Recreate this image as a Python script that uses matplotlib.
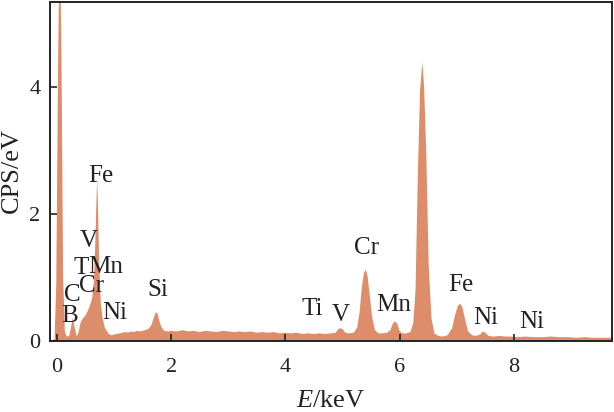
import matplotlib
matplotlib.use('Agg')
import matplotlib.pyplot as plt

plt.rcParams['font.family'] = ['Liberation Serif', 'DejaVu Serif']
plt.rcParams['mathtext.fontset'] = 'custom'
plt.rcParams['mathtext.rm'] = 'Liberation Serif'
plt.rcParams['mathtext.it'] = 'Liberation Serif:italic'

# EDS spectrum (keV, CPS/eV)
energy = [-0.12, -0.04, -0.01, 0.02, 0.05, 0.08, 0.11, 0.14, 0.18, 0.22, 0.25,
          0.28, 0.31, 0.35, 0.38, 0.42, 0.46, 0.50, 0.54, 0.58, 0.62, 0.65,
          0.67, 0.69, 0.705, 0.72, 0.74, 0.77, 0.80, 0.84, 0.90, 0.95, 1.00,
          1.05, 1.10, 1.15, 1.20, 1.25, 1.30, 1.35, 1.40, 1.45, 1.50, 1.55,
          1.60, 1.65, 1.69, 1.73, 1.76, 1.79, 1.83, 1.88, 1.95, 2.00, 2.10,
          2.20, 2.30, 2.40, 2.50, 2.60, 2.70, 2.80, 2.90, 3.00, 3.10, 3.20,
          3.30, 3.40, 3.50, 3.60, 3.70, 3.80, 3.90, 4.00, 4.10, 4.20, 4.30,
          4.40, 4.50, 4.60, 4.70, 4.80, 4.88, 4.93, 4.97, 5.01, 5.05, 5.12,
          5.20, 5.26, 5.30, 5.34, 5.38, 5.41, 5.44, 5.48, 5.52, 5.57, 5.63,
          5.70, 5.78, 5.84, 5.88, 5.92, 5.96, 6.00, 6.05, 6.12, 6.19, 6.24,
          6.28, 6.32, 6.36, 6.40, 6.43, 6.47, 6.51, 6.56, 6.61, 6.68, 6.76,
          6.84, 6.92, 6.97, 7.02, 7.06, 7.10, 7.15, 7.20, 7.27, 7.35, 7.42,
          7.46, 7.50, 7.56, 7.65, 7.75, 7.85, 7.95, 8.05, 8.20, 8.35, 8.50,
          8.65, 8.80, 8.95, 9.10, 9.25, 9.40, 9.55, 9.72]
cps = [0.00, 0.03, 0.9, 4.2, 6.5, 4.6, 1.0, 0.15, 0.06, 0.09, 0.22,
       0.37, 0.22, 0.07, 0.14, 0.30, 0.36, 0.40, 0.47, 0.56, 0.68, 0.95,
       1.45, 2.10, 2.56, 2.15, 1.25, 0.58, 0.36, 0.21, 0.12, 0.09, 0.10,
       0.11, 0.12, 0.13, 0.14, 0.13, 0.15, 0.14, 0.16, 0.15, 0.16, 0.17,
       0.19, 0.24, 0.34, 0.45, 0.44, 0.33, 0.22, 0.16, 0.15, 0.16, 0.15,
       0.17, 0.15, 0.16, 0.14, 0.16, 0.15, 0.14, 0.16, 0.15, 0.14, 0.15,
       0.14, 0.15, 0.13, 0.14, 0.13, 0.14, 0.12, 0.13, 0.12, 0.13, 0.11,
       0.12, 0.11, 0.12, 0.11, 0.12, 0.13, 0.19, 0.20, 0.18, 0.13, 0.12,
       0.13, 0.22, 0.45, 0.85, 1.08, 1.12, 1.02, 0.70, 0.38, 0.17, 0.12,
       0.12, 0.13, 0.17, 0.27, 0.31, 0.27, 0.16, 0.12, 0.12, 0.14, 0.28,
       0.80, 2.60, 3.95, 4.38, 4.00, 2.90, 1.20, 0.35, 0.12, 0.08, 0.07,
       0.09, 0.20, 0.40, 0.55, 0.59, 0.53, 0.33, 0.15, 0.09, 0.08, 0.11,
       0.15, 0.13, 0.08, 0.07, 0.08, 0.07, 0.07, 0.06, 0.07, 0.06, 0.06,
       0.07, 0.06, 0.06, 0.05, 0.06, 0.05, 0.05, 0.05]

# peak labels: text, x, y (data units, text centre)
peak_labels = ['Fe', 'V', 'T', 'Mn', 'Cr', 'C', 'B', 'Ni', 'Si',
               'Ti', 'V', 'Cr', 'Mn', 'Fe', 'Ni', 'Ni']
label_x = [0.77, 0.55, 0.43, 0.86, 0.60, 0.27, 0.23, 1.02, 1.77,
           4.48, 4.97, 5.43, 5.90, 7.08, 7.51, 8.32]
label_y = [2.60, 1.58, 1.14, 1.16, 0.86, 0.72, 0.39, 0.44, 0.80,
           0.50, 0.41, 1.47, 0.56, 0.88, 0.36, 0.30]

fig = plt.figure(figsize=(6.14, 4.12), dpi=100)
ax = fig.add_axes([50 / 614, 71 / 412, 562 / 614, 339 / 412])

ax.fill_between(energy, cps, 0, color='#DE8D6A', linewidth=0)

for t, x, y in zip(peak_labels, label_x, label_y):
    ax.text(x, y, t, ha='center', va='center', fontsize=18, color='#222222')

ax.set_xlim(-0.12, 9.72)
ax.set_ylim(0, 5.33)
ax.set_xticks([0, 2, 4, 6, 8])
ax.set_yticks([0, 2, 4])
ax.tick_params(direction='in', length=5, width=1.2, labelsize=16,
               colors='#222222')
ax.tick_params(axis='x', pad=12)
ax.tick_params(axis='y', pad=7)
for s in ax.spines.values():
    s.set_linewidth(1.4)
    s.set_color('#222222')

fig.text(331 / 614, 0.012, '$E$/keV', fontsize=19, color='#222222',
         ha='center', va='baseline')
fig.text(12 / 614, 1 - 170 / 412, 'CPS/eV', fontsize=19, color='#222222',
         ha='center', va='center', rotation=90)

fig.savefig('out.png', dpi=100)
